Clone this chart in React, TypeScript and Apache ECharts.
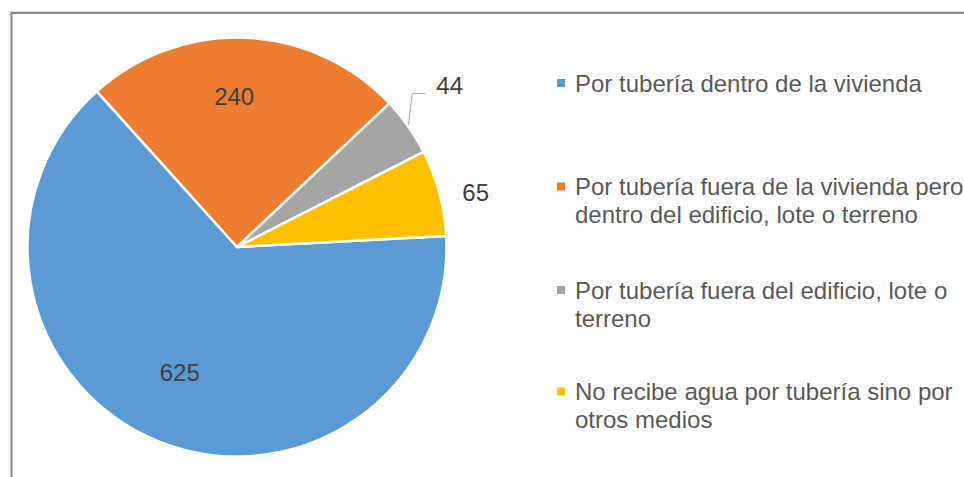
import React, { useEffect, useRef } from "react";
import * as echarts from "echarts";

const categories = [
  "Por tubería dentro de la vivienda",
  "Por tubería fuera de la vivienda pero dentro del edificio, lote o terreno",
  "Por tubería fuera del edificio, lote o terreno",
  "No recibe agua por tubería sino por otros medios",
];
// legend text as wrapped in the original
const legendLabels = [
  "Por tubería dentro de la vivienda",
  "Por tubería fuera de la vivienda pero\ndentro del edificio, lote o terreno",
  "Por tubería fuera del edificio, lote o\nterreno",
  "No recibe agua por tubería sino por\notros medios",
];
const values = [625, 240, 44, 65];
const colors = ["#5B9BD5", "#ED7D31", "#A5A5A5", "#FFC000"];
const labelPlacement = ["inside", "inside", "outside", "outside"];

const CX = 237;
const CY = 247;
const R = 209.5;
const FONT = "'Liberation Sans', Arial, Helvetica, sans-serif";
// radial fraction of inside labels and small nudges
const insideFrac = [0.664, 0.716, 0, 0];
const nudgeX = [-4, -9, 0, 0];
const nudgeY = [-3, -1, 0, 0];
const legendTops = [69, 172.5, 276, 377.5];
const legendMultiline = [false, true, true, true];
// square marker drawn at the top of a taller (invisible) box so it lines up with the first text line
const tallIcon = "path://M0,0H8V8H0Z M0,36L8,36Z";

export default function App() {
  const ref = useRef<HTMLDivElement>(null);
  useEffect(() => {
    const chart = echarts.init(ref.current!, null, { renderer: "svg" });
    const baseR = R * 0.5 + 3;
    const option: any = {
      animation: false,
      backgroundColor: "#ffffff",
      graphic: [
        {
          type: "rect",
          silent: true,
          shape: { x: 10, y: 11.5, width: 1000, height: 500 },
          style: { fill: "none", stroke: "#d9d9d9", lineWidth: 1 },
        },
        {
          type: "rect",
          silent: true,
          shape: { x: 11.5, y: 13, width: 1000, height: 500 },
          style: { fill: "none", stroke: "#8a8a8a", lineWidth: 2 },
        },
      ],
      legend: categories.map((name, i) => ({
        data: [name],
        orient: "vertical",
        left: 557,
        top: legendTops[i],
        padding: 0,
        itemWidth: 8,
        itemHeight: legendMultiline[i] ? 36 : 8,
        icon: legendMultiline[i] ? tallIcon : "rect",
        selectedMode: false,
        itemStyle: { borderWidth: 0 },
        formatter: (n: string) => legendLabels[categories.indexOf(n)],
        textStyle: {
          fontFamily: FONT,
          fontSize: 24,
          color: "#595959",
          lineHeight: 28,
          padding: [0, 0, 0, 5],
        },
      })),
      series: [
        {
          type: "pie",
          center: [CX, CY],
          radius: [0, R],
          startAngle: 3,
          clockwise: true,
          avoidLabelOverlap: false,
          silent: true,
          itemStyle: { borderColor: "#ffffff", borderWidth: 2.5 },
          label: {
            formatter: "{c}",
            fontFamily: FONT,
            fontSize: 24,
            color: "#404040",
          },
          labelLine: {
            lineStyle: { color: "#a6a6a6", width: 1 },
          },
          labelLayout: (p: any) => {
            const i = p.dataIndex;
            const r = p.labelRect;
            if (labelPlacement[i] === "inside") {
              const lx = r.x + r.width / 2;
              const ly = r.y + r.height / 2;
              const k = (insideFrac[i] * R) / baseR - 1;
              return {
                dx: (lx - CX) * k + nudgeX[i],
                dy: (ly - CY) * k + nudgeY[i],
              };
            }
            if (i === 2 && p.labelLinePoints) {
              const p0 = p.labelLinePoints[0];
              const p1 = [p0[0] + 4, p0[1] - 33];
              const p2 = [p1[0] + 13, p1[1]];
              return {
                x: p2[0] + 11,
                y: p1[1] - 8,
                labelLinePoints: [p0, p1, p2],
              };
            }
            return {};
          },
          data: categories.map((name, i) => ({
            name,
            value: values[i],
            itemStyle: { color: colors[i] },
            label: { position: labelPlacement[i] },
            labelLine:
              i === 2
                ? { show: true, length: 30, length2: 13 }
                : { show: false, length: 0, length2: 18 },
          })),
        },
      ],
    };
    chart.setOption(option);
    return () => chart.dispose();
  }, []);
  return (
    <div
      ref={ref}
      style={{ position: "absolute", left: 0, top: 0, width: 964, height: 477 }}
    />
  );
}
